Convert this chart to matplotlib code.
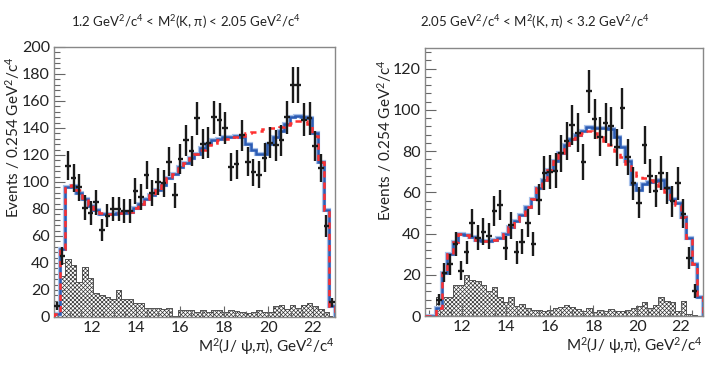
import numpy as np
import matplotlib
matplotlib.use("Agg")
import matplotlib.pyplot as plt
from matplotlib.ticker import MultipleLocator

plt.rcParams['font.family'] = ['Lato', 'DejaVu Sans']
plt.rcParams['mathtext.fontset'] = 'custom'
plt.rcParams['mathtext.rm'] = 'Lato'
plt.rcParams['mathtext.it'] = 'Lato:italic'
plt.rcParams['mathtext.bf'] = 'Lato:bold'
plt.rcParams['mathtext.sf'] = 'Lato'
plt.rcParams['mathtext.fallback'] = 'stixsans'
plt.rcParams['hatch.linewidth'] = 0.5

# binning: 50 bins of 0.254 GeV^2/c^4
x_lo = 10.3
bin_w = 0.254
n_bins = 50

# ---- left panel: 1.2 < M2(K,pi) < 2.05
data_1 = [8, 45, 112, 103, 96, 81, 77, 85, 64.5, 75,
          80, 80, 78.5, 78.5, 93, 89, 105, 92, 100, 99,
          115, 90, 117, 131, 123, 147, 128, 129, 148, 146,
          140, 111, 113, 134.5, 115, 107, 105.5, 118, 129, 127,
          131, 148, 171.7, 171.7, 146, 147, 126.5, 110.5, 67.5, 11]
fit_blue_1 = [2, 50, 96, 97, 92, 87, 82, 79, 76, 76,
              76, 77, 77, 78, 81, 84, 87, 90, 94, 98,
              103, 106, 111, 114, 118, 121, 125, 128, 131, 132,
              133, 133.5, 134, 133, 128, 124, 121, 121, 128, 133,
              138, 143, 148, 149, 148, 147, 136, 115, 79, 8]
fit_red_1 = [2, 50, 97, 98, 94, 88, 83, 80, 77, 76,
             76, 77, 77, 78, 81, 84, 87, 90, 94, 98,
             103, 106, 110, 114, 118, 121, 124, 127, 129, 131,
             132, 133, 133, 134, 136, 137, 138, 139, 140, 140,
             141, 142, 144, 145, 145, 143, 134, 115, 79, 8]
bkg_1 = [2, 30, 43, 38.5, 26, 37, 29, 18, 16.5, 14.5,
         13, 20, 13, 13, 10, 10, 7, 7, 6.5, 6,
         6.5, 1, 5, 5, 5, 4, 5, 4, 5, 5,
         4, 5, 4.5, 4, 3, 4, 5, 4, 3.5, 8,
         9, 6, 9, 6.5, 9, 10, 8, 6, 4, 0.5]

# ---- right panel: 2.05 < M2(K,pi) < 3.2
data_2 = [0, 0, 8, 21, 25, 35, 22, 31, 45, 38,
          41, 39, 51, 54, 33, 44, 31, 36, 45, 35,
          56.5, 69.5, 70, 70.5, 79, 85, 92.6, 89, 74.8, 109,
          95.6, 87, 93.5, 92, 81.8, 100.8, 77, 64.3, 55, 83,
          68, 60.6, 69.5, 62, 55.7, 64.3, 49.5, 28, 12, 0]
fit_blue_2 = [0, 0, 4, 21, 30, 36, 40, 39.5, 38.5, 37,
              36.5, 36.5, 37, 38, 40, 43, 46, 49, 53, 57,
              62, 66, 71, 75, 79, 83, 86, 88, 90, 91.5,
              91, 91, 91, 90.5, 87, 82, 75, 64, 61, 64,
              65, 65.5, 66, 62, 57, 55, 48, 38, 25, 9]
fit_red_2 = [0, 0, 4, 21, 30, 36, 40, 39.5, 38.5, 37,
             36.5, 36.5, 37, 38, 40, 43, 46, 49, 53, 57,
             62, 66, 71, 75, 79, 83, 86, 88, 89, 90,
             89, 87, 85, 83, 80, 77, 74, 71, 68, 67,
             66, 64.5, 63, 60, 56, 54, 48, 38, 25, 9]
bkg_2 = [0, 0, 9, 9, 9, 15, 15, 20, 17.5, 17,
         15, 12, 14, 9, 7, 9, 5, 6, 4, 3,
         3, 2.5, 3, 4, 4.5, 5.5, 4.5, 3.5, 2.5, 4,
         2, 3, 2.5, 3.5, 2.5, 2.5, 3, 4, 5, 7,
         4, 5.5, 9, 7.5, 7, 2.5, 7.5, 1, 0.5, 0]

titles = [r"1.2 GeV$^{2}$/c$^{4}$ < M$^{2}$(K, π) < 2.05 GeV$^{2}$/c$^{4}$",
          r"2.05 GeV$^{2}$/c$^{4}$ < M$^{2}$(K, π) < 3.2 GeV$^{2}$/c$^{4}$"]
ylabel = r"Events / 0.254 GeV$^{2}$/c$^{4}$"
xlabel = r"M$^{2}$(J/ ψ,π), GeV$^{2}$/c$^{4}$"
ymax = [200, 130]

edges = x_lo + bin_w * np.arange(n_bins + 1)
centers = 0.5 * (edges[:-1] + edges[1:])

fig = plt.figure(figsize=(7.09, 3.68), dpi=100)
ax1 = fig.add_axes([0.0762, 0.1386, 0.396, 0.734])
ax2 = fig.add_axes([0.5994, 0.1413, 0.392, 0.728])

panels = [(ax1, data_1, fit_blue_1, fit_red_1, bkg_1),
          (ax2, data_2, fit_blue_2, fit_red_2, bkg_2)]

for k, (ax, d, fb, fr, bg) in enumerate(panels):
    d = np.array(d, dtype=float)
    ax.stairs(bg, edges, fill=True, facecolor='white', edgecolor='#333333',
              hatch='xxxxxxxx', linewidth=0.5, zorder=1)
    ax.stairs(bg, edges, fill=False, color='#555555', linewidth=0.7, zorder=1.5)
    ax.stairs(fb, edges, color='#a9c2ea', linewidth=3.0, zorder=2)
    ax.stairs(fb, edges, color='#2c5cb4', linewidth=1.8, zorder=2.1)
    ax.stairs(fr, edges, color='#ff3030', linewidth=1.8, linestyle=(0, (2.5, 2)),
              zorder=3)
    m = d > 0
    ax.errorbar(centers[m], d[m], yerr=np.sqrt(d[m]), xerr=bin_w / 2,
                fmt='none', ecolor='#1a1a1a', elinewidth=1.7, capsize=0, zorder=4)

    ax.set_xlim(edges[0], edges[-1])
    ax.set_ylim(0, ymax[k])
    ax.xaxis.set_major_locator(MultipleLocator(2))
    ax.xaxis.set_minor_locator(MultipleLocator(0.5))
    ax.yaxis.set_major_locator(MultipleLocator(20))
    ax.yaxis.set_minor_locator(MultipleLocator(4))
    ax.tick_params(which='both', direction='in', color='#666666',
                   labelsize=11.5, labelcolor='#222222', pad=3)
    ax.tick_params(which='major', length=8, width=0.8)
    ax.tick_params(which='minor', length=4, width=0.8)
    for s in ax.spines.values():
        s.set_color('#888888')
        s.set_linewidth(1.0)

    ax.set_xlabel(xlabel, fontsize=11, color='#222222', loc='right', labelpad=1)

fig.text(0.262, 0.94, titles[0], ha='center', va='center', fontsize=9.5, color='#222222')
fig.text(0.755, 0.94, titles[1], ha='center', va='center', fontsize=9.5, color='#222222')
fig.text(0.017, 0.845, ylabel, rotation=90, ha='center', va='top', fontsize=11, color='#222222')
fig.text(0.543, 0.838, ylabel, rotation=90, ha='center', va='top', fontsize=11, color='#222222')

fig.savefig("out.png", dpi=100)
